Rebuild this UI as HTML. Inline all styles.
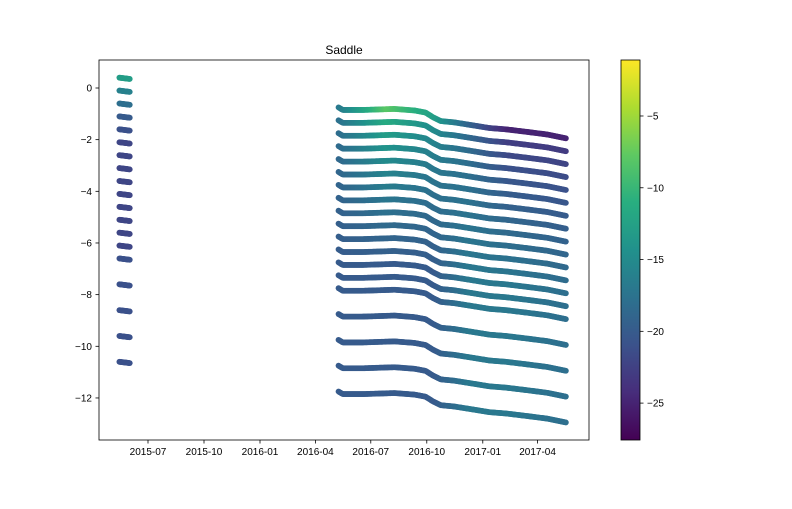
<!DOCTYPE html>
<html><head><meta charset="utf-8"><style>
body{margin:0;background:#fff;font-family:"Liberation Sans",sans-serif;}
svg text{font-family:"Liberation Sans",sans-serif;font-size:10px;fill:#000}
</style></head><body>
<svg id="c" width="792" height="504" xmlns="http://www.w3.org/2000/svg">
<defs><linearGradient id="vg" x1="0" y1="1" x2="0" y2="0">
<stop offset="0" stop-color="#440154"/><stop offset="0.125" stop-color="#472d7b"/><stop offset="0.25" stop-color="#3b528b"/><stop offset="0.375" stop-color="#2c728e"/><stop offset="0.5" stop-color="#21918c"/><stop offset="0.625" stop-color="#28ae80"/><stop offset="0.75" stop-color="#5ec962"/><stop offset="0.875" stop-color="#addc30"/><stop offset="1" stop-color="#fde725"/></linearGradient></defs>
<text x="344" y="54" text-anchor="middle" style="font-size:12px">Saddle</text>
<g id="marks"></g>
<rect x="99" y="60" width="490" height="380" fill="none" stroke="#000" stroke-width="0.8"/>
<g id="axes"></g>
<rect x="621" y="60" width="19" height="380" fill="url(#vg)" stroke="#000" stroke-width="0.8"/>
<g id="cbaxis"></g>
</svg>
<script>
// ---- data ----
const xTickLabels=["2015-07","2015-10","2016-01","2016-04","2016-07","2016-10","2017-01","2017-04"];
const xTickDates=["2015-07-01","2015-10-01","2016-01-01","2016-04-01","2016-07-01","2016-10-01","2017-01-01","2017-04-01"];
const yTicks=[0,-2,-4,-6,-8,-10,-12];
const cbTicks=[-5,-10,-15,-20,-25];
const earlyStart="2015-05-15", earlyEnd="2015-06-01";
const earlyDepths=[0.4,-0.1,-0.6,-1.1,-1.6,-2.1,-2.6,-3.1,-3.6,-4.1,-4.6,-5.1,-5.6,-6.1,-6.6,-7.6,-8.6,-9.6,-10.6];
const earlyTemps=[-13,-16,-18,-20,-21,-22,-22,-22,-22,-22,-22,-22,-22,-22,-21,-21,-21,-21,-21];
const lateStart="2016-05-09";
const lateDepths=[-0.75,-1.25,-1.75,-2.25,-2.75,-3.25,-3.75,-4.25,-4.75,-5.25,-5.75,-6.25,-6.75,-7.25,-7.75,-8.75,-9.75,-10.75,-11.75];
const profileDays=[0,7,40,92,125,143,155,168,190,222,248,275,310,343,374];
const profileOffset=[0,-0.1,-0.1,-0.06,-0.12,-0.2,-0.38,-0.53,-0.58,-0.7,-0.8,-0.85,-0.95,-1.05,-1.2];
const tempDays=[0,80,160,215,280,374];
const tempSurface=[-17,-8,-13,-19,-25,-25];
const tempDeep=[-20,-20,-20,-17,-17,-18];
// ---- scales ----
const D0=Date.parse("2016-01-01");
const day=s=>(Date.parse(s)-D0)/864e5;
const X=d=>260+d*0.6087;
const Y=v=>88-v*25.83;
const vmin=-27.57,vmax=-1.1;
const CY=v=>440-(v-vmin)/(vmax-vmin)*380;
const vir=[[68,1,84],[71,45,123],[59,82,139],[44,114,142],[33,145,140],[40,174,128],[94,201,98],[173,220,48],[253,231,37]];
function cmap(v){let t=Math.max(0,Math.min(1,(v-vmin)/(vmax-vmin)))*8;let i=Math.min(7,Math.floor(t)),f=t-i;
 const c=vir[i].map((a,k)=>Math.round(a+(vir[i+1][k]-a)*f));return`rgb(${c})`;}
function interp(xs,ys,x){if(x<=xs[0])return ys[0];for(let i=1;i<xs.length;i++)if(x<=xs[i]){const f=(x-xs[i-1])/(xs[i]-xs[i-1]);return ys[i-1]+(ys[i]-ys[i-1])*f;}return ys[ys.length-1];}
const NS="http://www.w3.org/2000/svg";
const mk=(t,a,p)=>{const e=document.createElementNS(NS,t);for(const k in a)e.setAttribute(k,a[k]);p.appendChild(e);return e;};
const marks=document.getElementById('marks'),axes=document.getElementById('axes'),cba=document.getElementById('cbaxis');
// early cluster
const e0=day(earlyStart),e1=day(earlyEnd);
earlyDepths.forEach((d,i)=>{const g=mk('g',{},marks);
 
 
 for(let t=e0;t<=e1;t+=1){const f=(t-e0)/(e1-e0);
  mk('circle',{cx:X(t),cy:Y(d-0.05*f),r:2.9,fill:cmap(earlyTemps[i])},g);}});
// late series
const l0=day(lateStart);
lateDepths.forEach((d,i)=>{const g=mk('g',{},marks);
 
 
 const w=Math.min(1,Math.sqrt(i/12));
 for(let t=0;t<=374;t+=1.5){const ts=interp(tempDays,tempSurface,t),td=interp(tempDays,tempDeep,t);
  mk('circle',{cx:X(l0+t),cy:Y(d+interp(profileDays,profileOffset,t)),r:2.9,fill:cmap(ts+(td-ts)*w)},g);}});
// axes
xTickDates.forEach((s,i)=>{const x=X(day(s));
 const l=mk('line',{x1:x,x2:x,y1:440,y2:443.5,stroke:'#000','stroke-width':0.8},axes);
 
 
 const t=mk('text',{x:x,y:455,'text-anchor':'middle'},axes);t.textContent=xTickLabels[i];
 
 });
yTicks.forEach(v=>{const y=Y(v);
 const l=mk('line',{x1:95.5,x2:99,y1:y,y2:y,stroke:'#000','stroke-width':0.8},axes);
 
 
 const t=mk('text',{x:92,y:y+3.5,'text-anchor':'end'},axes);t.textContent=v===0?'0':'\u2212'+(-v);
 
 });
cbTicks.forEach(v=>{const y=CY(v);
 const l=mk('line',{x1:640,x2:643.5,y1:y,y2:y,stroke:'#000','stroke-width':0.8},cba);
 
 
 const t=mk('text',{x:647,y:y+3.5},cba);t.textContent='\u2212'+(-v);
 
 });
</script>
</body></html>
